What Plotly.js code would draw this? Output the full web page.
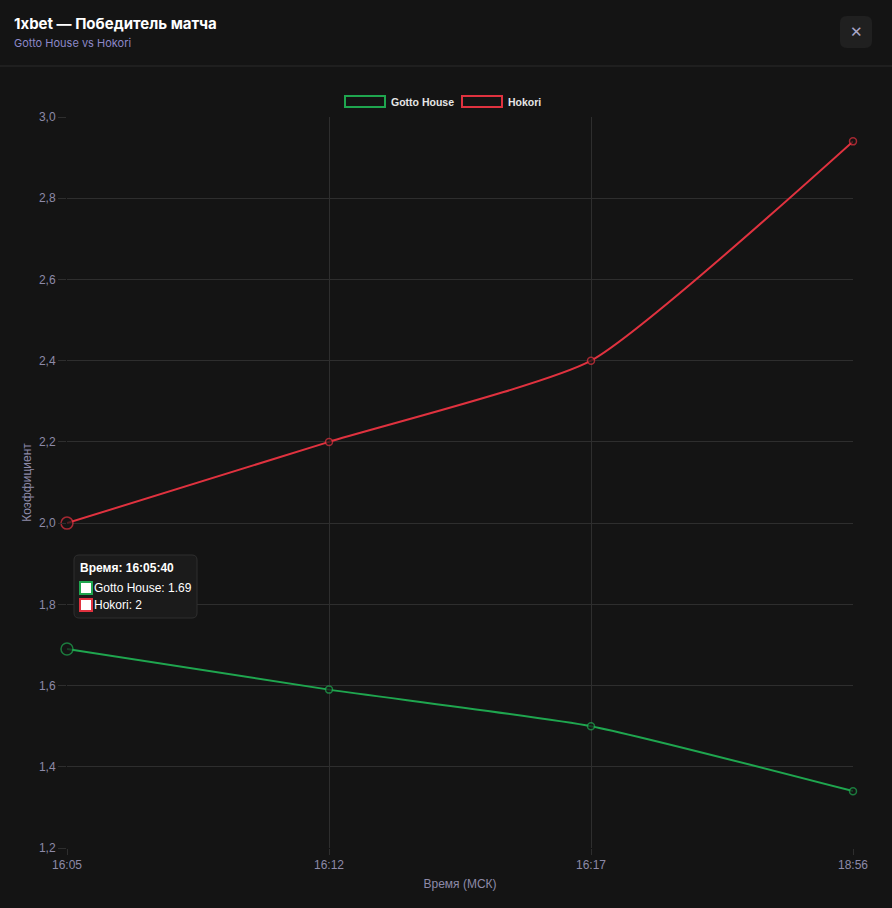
<!DOCTYPE html>
<html><head><meta charset="utf-8">
<script src="https://cdn.plot.ly/plotly-3.0.1.min.js"></script>
<style>html,body{margin:0;padding:0;background:#141414;}#chart{width:892px;height:908px;}</style>
</head><body><div id="chart"></div>
<script>
const times = ["16:05", "16:12", "16:17", "18:56"];
const seriesNames = ["Gotto House", "Hokori"];
const gottoHouse = [1.69, 1.59, 1.50, 1.34];
const hokori = [2.00, 2.20, 2.40, 2.94];
const colors = ["#1fa64f", "#e0323f"];
const yTicks = [1.2, 1.4, 1.6, 1.8, 2.0, 2.2, 2.4, 2.6, 2.8, 3.0];
const hoverTime = "16:05:40";

const W = 892, H = 908, mL = 67, mR = 39, mT = 117, mB = 60;
const px = (x) => (x - mL) / (W - mL - mR);
const py = (y) => 1 - (y - mT) / (H - mT - mB);

function trace(name, ys, color) {
  return {
    x: times, y: ys, name: name, type: "scatter", mode: "lines+markers",
    line: {color: color, width: 2, shape: "spline", smoothing: 0.5},
    marker: {symbol: "circle", size: [12, 7, 7, 7], color: "#141414", line: {color: color, width: 1.5}},
    hoverinfo: "skip", showlegend: false, cliponaxis: false
  };
}

const data = [trace(seriesNames[0], gottoHouse, colors[0]), trace(seriesNames[1], hokori, colors[1])];

const tickColor = "#8d8aa8";
const gridColor = "#2e2e2e";

function roundRect(x0, y0, x1, y1, r) {
  const X = px, Y = py;
  return `M ${X(x0 + r)} ${Y(y0)} L ${X(x1 - r)} ${Y(y0)} Q ${X(x1)} ${Y(y0)} ${X(x1)} ${Y(y0 + r)} ` +
    `L ${X(x1)} ${Y(y1 - r)} Q ${X(x1)} ${Y(y1)} ${X(x1 - r)} ${Y(y1)} L ${X(x0 + r)} ${Y(y1)} ` +
    `Q ${X(x0)} ${Y(y1)} ${X(x0)} ${Y(y1 - r)} L ${X(x0)} ${Y(y0 + r)} Q ${X(x0)} ${Y(y0)} ${X(x0 + r)} ${Y(y0)} Z`;
}

const shapes = [
  {type: "line", xref: "paper", yref: "paper", x0: px(0), x1: px(W), y0: py(66), y1: py(66), line: {color: "#2a2a2a", width: 1}},
  {type: "path", xref: "paper", yref: "paper", path: roundRect(840, 16, 872, 48, 7), fillcolor: "#202020", line: {width: 0}},
  // legend boxes
  {type: "rect", xref: "paper", yref: "paper", x0: px(345), x1: px(385), y0: py(96), y1: py(107), fillcolor: "rgba(0,0,0,0)", line: {color: colors[0], width: 2}},
  {type: "rect", xref: "paper", yref: "paper", x0: px(462), x1: px(502), y0: py(96), y1: py(107), fillcolor: "rgba(0,0,0,0)", line: {color: colors[1], width: 2}},
  // tooltip box
  {type: "path", xref: "paper", yref: "paper", path: roundRect(74, 555, 197, 618, 5), fillcolor: "#1b1b1b", line: {color: "#2e2e2e", width: 1}},
  {type: "rect", xref: "paper", yref: "paper", x0: px(80), x1: px(92), y0: py(582), y1: py(594), fillcolor: "#ffffff", line: {color: colors[0], width: 2}},
  {type: "rect", xref: "paper", yref: "paper", x0: px(80), x1: px(92), y0: py(599), y1: py(611), fillcolor: "#ffffff", line: {color: colors[1], width: 2}}
];

const ann = (x, y, text, opts) => Object.assign({xref: "paper", yref: "paper", x: px(x), y: py(y), text: text, showarrow: false, xanchor: "left", yanchor: "middle"}, opts || {});

const annotations = [
  ann(12, 24, "<b>1xbet — Победитель матча</b>", {font: {family: "Inter, sans-serif", size: 15, color: "#ffffff"}}),
  ann(12, 43, "Gotto House vs Hokori", {font: {family: "Inter, sans-serif", size: 11, color: "#8c88c8"}}),
  ann(856, 32, "✕", {xanchor: "center", font: {family: "DejaVu Sans, sans-serif", size: 15, color: "#aaa7c8"}}),
  ann(389, 102, "<b>" + seriesNames[0] + "</b>", {font: {family: "Liberation Sans, Arial, sans-serif", size: 10.5, color: "#e6e6e6"}}),
  ann(506, 102, "<b>" + seriesNames[1] + "</b>", {font: {family: "Liberation Sans, Arial, sans-serif", size: 10.5, color: "#e6e6e6"}}),
  ann(78, 568, "<b>Время: " + hoverTime + "</b>", {font: {family: "Liberation Sans, Arial, sans-serif", size: 12, color: "#ffffff"}}),
  ann(92, 588, seriesNames[0] + ": " + gottoHouse[0], {font: {family: "Liberation Sans, Arial, sans-serif", size: 12, color: "#ffffff"}}),
  ann(92, 605, seriesNames[1] + ": " + hokori[0], {font: {family: "Liberation Sans, Arial, sans-serif", size: 12, color: "#ffffff"}})
];

const layout = {
  width: W, height: H,
  paper_bgcolor: "#141414", plot_bgcolor: "#141414",
  margin: {l: mL, r: mR, t: mT, b: mB},
  separators: ", ",
  showlegend: false,
  font: {family: "Liberation Sans, Arial, sans-serif", color: tickColor, size: 12},
  xaxis: {
    type: "category", range: [0, 3], showgrid: true, gridcolor: gridColor, gridwidth: 1,
    zeroline: false, showline: false, ticks: "outside", ticklen: 6, tickcolor: gridColor,
    tickfont: {size: 12, color: tickColor},
    title: {text: "Время (МСК)", font: {size: 12, color: tickColor}, standoff: 8}
  },
  yaxis: {
    range: [1.2, 3.0], tickvals: yTicks, tickformat: ".1f", showgrid: true, gridcolor: gridColor,
    zeroline: false, showline: false, ticks: "outside", ticklen: 8, tickcolor: gridColor,
    tickfont: {size: 12, color: tickColor},
    title: {text: "Коэффициент", font: {size: 12, color: tickColor}, standoff: 4}
  },
  shapes: shapes,
  annotations: annotations
};

Plotly.newPlot("chart", data, layout, {displayModeBar: false, staticPlot: true});
</script>
</body></html>
